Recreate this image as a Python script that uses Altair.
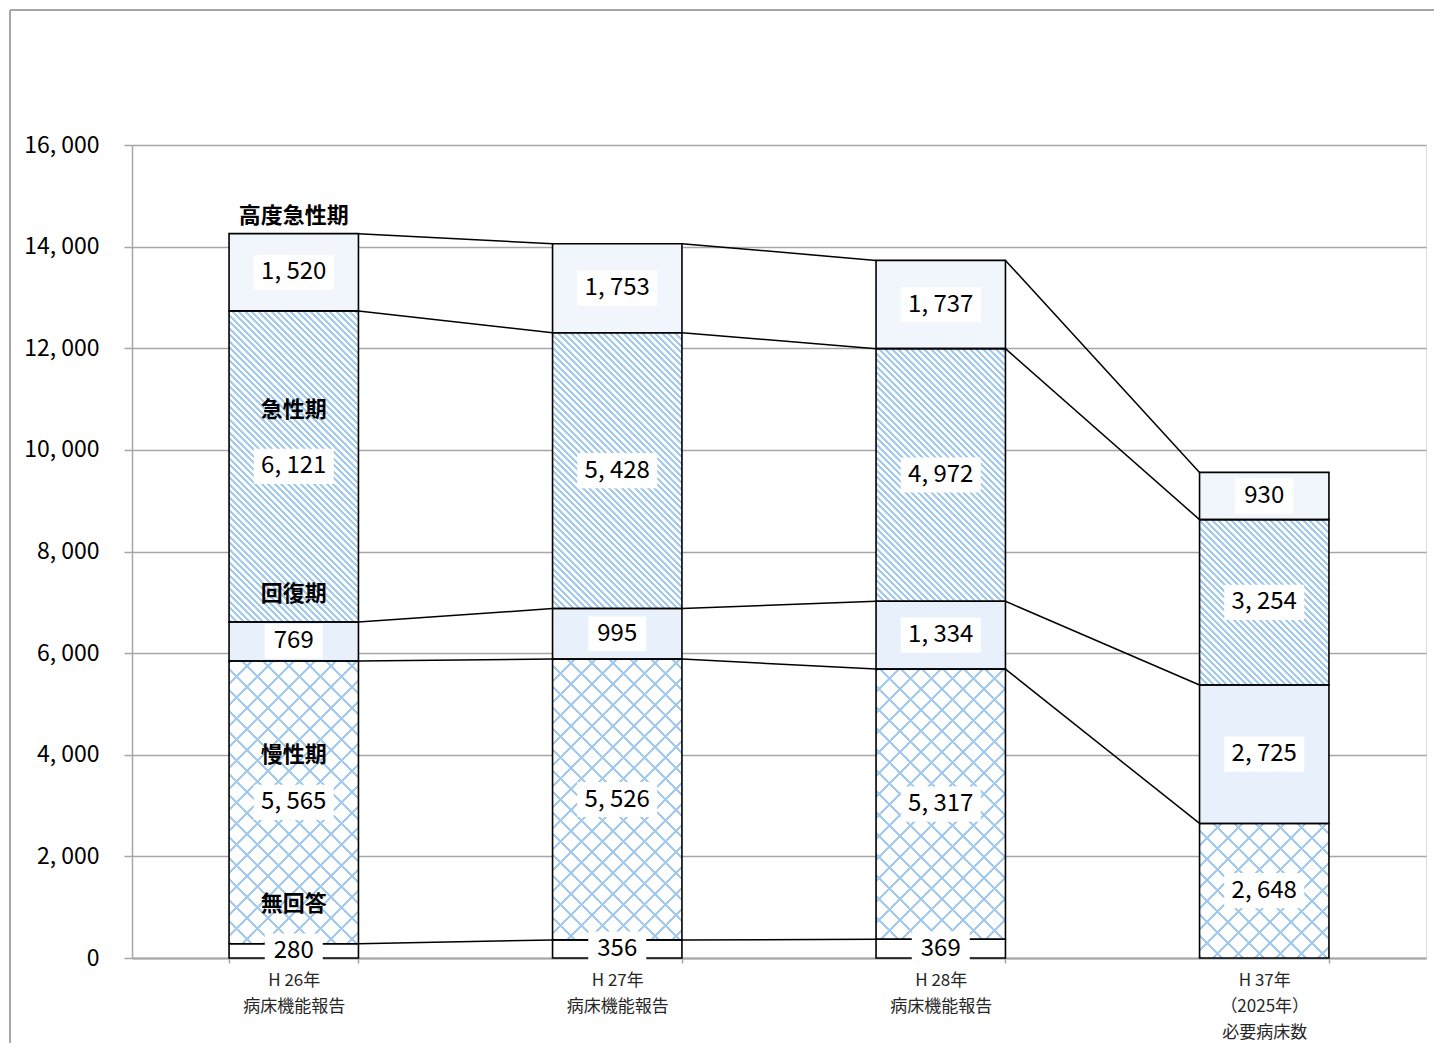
import altair as alt
import pandas as pd

# Categories (x axis) and series, stacked bottom to top
bars = ["H 26年\n病床機能報告", "H 27年\n病床機能報告", "H 28年\n病床機能報告", "H 37年\n（2025年）\n必要病床数"]
series = ["無回答", "慢性期", "回復期", "急性期", "高度急性期"]

no_answer = [280, 356, 369, None]
chronic = [5565, 5526, 5317, 2648]
recovery = [769, 995, 1334, 2725]
acute = [6121, 5428, 4972, 3254]
high_acute = [1520, 1753, 1737, 930]

values = {"無回答": no_answer, "慢性期": chronic, "回復期": recovery,
          "急性期": acute, "高度急性期": high_acute}

FONT = "Noto Sans CJK JP"
W, H = 1294, 813
Y_MAX = 16000
PAD_INNER, PAD_OUTER = 0.6, 0.3
STEP = W / (len(bars) - PAD_INNER + 2 * PAD_OUTER)
BAND = STEP * (1 - PAD_INNER)
PX_PER_UNIT = H / Y_MAX

# stacked segments
rows = []
for i, b in enumerate(bars):
    base = 0
    for s in series:
        v = values[s][i]
        if v is None:
            continue
        rows.append({"bar": b, "series": s, "value": v, "y0": base, "y1": base + v,
                     "mid": base + v / 2, "label": f"{v:,}".replace(",", ", ")})
        base += v
seg = pd.DataFrame(rows)

# connector lines between neighbouring bars at each stack boundary
tops = {}
for r in rows:
    tops[(r["bar"], r["series"])] = r["y1"]
conn = []
for i in range(len(bars) - 1):
    for s in series:
        a, b = tops.get((bars[i], s)), tops.get((bars[i + 1], s))
        if a is None or b is None:
            continue
        conn.append({"bar": bars[i], "next": bars[i + 1], "ya": a, "yb": b})
conn = pd.DataFrame(conn)

x_scale = alt.Scale(domain=bars, paddingInner=PAD_INNER, paddingOuter=PAD_OUTER)
y_scale = alt.Scale(domain=[0, Y_MAX], nice=False)
GRAY = "#a6a6a6"
x_axis = alt.Axis(title=None, tickBand="extent", tickSize=5, tickColor=GRAY, tickWidth=1.5,
                  domainColor=GRAY, domainWidth=2, labelAngle=0, labelFont=FONT,
                  labelFontSize=17, labelColor="#262626", labelLineHeight=26,
                  labelPadding=9, labelBaseline="top",
                  labelExpr="split(datum.label, '\\n')")
y_axis = alt.Axis(title=None, values=list(range(0, Y_MAX + 1, 2000)), grid=True,
                  gridColor=GRAY, gridWidth=1.5, domainColor=GRAY, domainWidth=1.5,
                  tickColor=GRAY, tickWidth=1.5, tickSize=8, labelFont=FONT,
                  labelFontSize=23, labelColor="#000000", labelPadding=25,
                  labelExpr="replace(format(datum.value, ','), ',', ', ')")

X = alt.X("bar:N", scale=x_scale, axis=x_axis)


def hatch(h, period, width, color, back, direction):
    """Linear gradient giving 45-degree hatching over a box of BAND x h pixels."""
    w = BAND
    k = (w + h) / (w * w + h * h)
    span = w + h
    if direction == "down":
        x1, y1, x2, y2 = 0, 1, k * w, 1 - k * h
    else:
        x1, y1, x2, y2 = 0, 0, k * w, k * h
    stops = []
    p = 0.0
    while p < span:
        a = p / span
        b = min((p + width) / span, 1)
        c = min((p + period) / span, 1)
        stops += [{"offset": a, "color": color}, {"offset": b, "color": color},
                  {"offset": b, "color": back}, {"offset": c, "color": back}]
        p += period
    return {"gradient": "linear", "x1": x1, "y1": y1, "x2": x2, "y2": y2, "stops": stops}


layers = []

# plain / lightly tinted segments
solid = seg[seg.series.isin(["無回答", "回復期", "高度急性期"])]
layers.append(
    alt.Chart(solid).mark_bar(strokeWidth=0).encode(
        x=X, y=alt.Y("y0:Q", scale=y_scale, axis=y_axis), y2="y1:Q",
        fill=alt.Fill("series:N", legend=None,
                      scale=alt.Scale(domain=["無回答", "回復期", "高度急性期"],
                                      range=["#ffffff", "#e8f1fb", "#f1f6fc"])))
)

# hatched segments
BLUE = "#a3cbf0"
CLEAR = "rgba(255,255,255,0)"
for _, r in seg.iterrows():
    h = r["value"] * PX_PER_UNIT
    one = pd.DataFrame([r])
    enc = dict(x=X, y=alt.Y("y0:Q", scale=y_scale, axis=y_axis), y2="y1:Q")
    if r["series"] == "急性期":
        layers.append(alt.Chart(one).mark_bar(
            strokeWidth=0, fill=hatch(h, 6.5, 3, BLUE, "#ffffff", "down")).encode(**enc))
    elif r["series"] == "慢性期":
        layers.append(alt.Chart(one).mark_bar(
            strokeWidth=0, fill=hatch(h, 21, 3, BLUE, "#ffffff", "down")).encode(**enc))
        layers.append(alt.Chart(one).mark_bar(
            strokeWidth=0, fill=hatch(h, 21, 3, BLUE, CLEAR, "up")).encode(**enc))

# segment outlines
layers.append(
    alt.Chart(seg).mark_bar(fillOpacity=0, stroke="#000000", strokeWidth=1.6).encode(
        x=X, y=alt.Y("y0:Q", scale=y_scale, axis=y_axis), y2="y1:Q")
)

# connector lines
layers.append(
    alt.Chart(conn).mark_rule(color="#000000", strokeWidth=1.5).encode(
        x=alt.X("bar:N", scale=x_scale, axis=x_axis, bandPosition=1),
        x2=alt.X2("next:N", bandPosition=0),
        y=alt.Y("ya:Q", scale=y_scale, axis=y_axis), y2="yb:Q")
)

# white boxes behind the value labels
short = seg[seg.value < 1000]
long_ = seg[seg.value >= 1000]
layers.append(
    alt.Chart(short).mark_point(
        shape="M-1,-0.6L1,-0.6L1,0.6L-1,0.6Z", filled=True, fill="#ffffff",
        fillOpacity=1, strokeWidth=0, size=58 * 58).encode(
        x=X, y=alt.Y("mid:Q", scale=y_scale, axis=y_axis))
)
layers.append(
    alt.Chart(long_).mark_point(
        shape="M-1,-0.44L1,-0.44L1,0.44L-1,0.44Z", filled=True, fill="#ffffff",
        fillOpacity=1, strokeWidth=0, size=80 * 80).encode(
        x=X, y=alt.Y("mid:Q", scale=y_scale, axis=y_axis))
)

# value labels
layers.append(
    alt.Chart(seg).mark_text(font=FONT, fontSize=24, color="#000000", baseline="middle").encode(
        x=X, y=alt.Y("mid:Q", scale=y_scale, axis=y_axis), text="label:N")
)

# series names beside the first bar
first = seg[seg.bar == bars[0]]
upper = first[first.series.isin(["高度急性期", "急性期"])]
lower = first[~first.series.isin(["高度急性期", "急性期"])]
for part, off in ((upper, -56), (lower, -47)):
    layers.append(
        alt.Chart(part).mark_text(font=FONT, fontSize=22, fontWeight="bold", color="#000000",
                                  baseline="middle", dy=off).encode(
            x=X, y=alt.Y("mid:Q", scale=y_scale, axis=y_axis), text="series:N")
    )

# outer chart-area frame
frame = pd.DataFrame({"k": [0]})
layers.append(
    alt.Chart(frame).mark_rule(color=GRAY, strokeWidth=2).encode(
        x=alt.value(-122), x2=alt.value(1320), y=alt.value(-135))
)
layers.append(
    alt.Chart(frame).mark_rule(color=GRAY, strokeWidth=2).encode(
        x=alt.value(-122), y=alt.value(-135), y2=alt.value(920))
)

chart = alt.layer(*layers).properties(
    width=W, height=H,
    autosize=alt.AutoSizeParams(type="none"),
    padding={"left": 132, "top": 145, "right": 8, "bottom": 85},
    background="#ffffff",
).configure_view(stroke=None).configure(font=FONT)

chart.save("out.html", embed_options={"renderer": "svg", "actions": False})
